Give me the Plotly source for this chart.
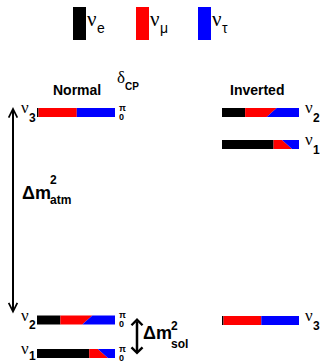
import plotly.graph_objects as go

# ---- data -------------------------------------------------------------
flavor_names = ["e", "μ", "τ"]
flavor_colors = ["#000000", "#ff0000", "#0000ff"]
mass_states = ["1", "2", "3"]
# flavour content of each mass state (fractions); νμ varies with δCP
frac_e = [0.67, 0.30, 0.02]
frac_mu_delta0 = [0.24, 0.28, 0.49]
frac_mu_deltapi = [0.11, 0.41, 0.49]
# schematic mass-squared levels (arbitrary units)
mass_sq_normal = [10.5, 44.0, 251.5]
mass_sq_inverted = [219.5, 251.5, 43.5]

# ---- layout helpers ---------------------------------------------------
W, H = 322, 364
FONT = "Liberation Sans, Arial"
SERIF = "Liberation Serif, DejaVu Serif"
bar_half = 4.5
normal_x = (37, 115)
inverted_x = (222, 299)


def P(yp):
    return H - yp


fig = go.Figure()
annotations = []


def add_poly(xs, ys, color):
    fig.add_trace(go.Scatter(x=xs + [xs[0]], y=ys + [ys[0]], mode="lines",
                             fill="toself", fillcolor=color,
                             line=dict(width=0, color=color),
                             hoverinfo="skip", showlegend=False))


def draw_bar(x0, x1, level, i):
    w = x1 - x0
    bot, top = level - bar_half, level + bar_half
    xe = x0 + frac_e[i] * w
    xm0 = xe + frac_mu_delta0[i] * w
    xmp = xe + frac_mu_deltapi[i] * w
    add_poly([x0, xe, xe, x0], [bot, bot, top, top], flavor_colors[0])
    add_poly([xe, xm0, xmp, xe], [bot, bot, top, top], flavor_colors[1])
    add_poly([xm0, x1, x1, xmp], [bot, bot, top, top], flavor_colors[2])


def txt(x, y, s, size, bold=False, xanchor="left", yanchor="middle", family=FONT):
    if bold:
        s = "<b>" + s + "</b>"
    annotations.append(dict(x=x, y=y, xref="x", yref="y", text=s, showarrow=False,
                            xanchor=xanchor, yanchor=yanchor, borderpad=0,
                            font=dict(family=family, size=size, color="black")))


def nu_label(x, y, sub):
    txt(x, y + 5, "ν", 17, family=SERIF)
    txt(x + 8, max(y - 5, 8.5), sub, 12, bold=True)


for i, s in enumerate(mass_states):
    lv = mass_sq_normal[i]
    draw_bar(normal_x[0], normal_x[1], lv, i)
    nu_label(normal_x[0] - 17, lv, s)
    txt(normal_x[1] + 3, lv + 5, "π", 9, bold=True)
    txt(normal_x[1] + 3, max(lv - 4, 6.5), "0", 9, bold=True)

    lv = mass_sq_inverted[i]
    draw_bar(inverted_x[0], inverted_x[1], lv, i)
    nu_label(inverted_x[1] + 5, lv, s)

# legend boxes
legend_x = [73, 136, 198]
for k in range(3):
    add_poly([legend_x[k], legend_x[k] + 13, legend_x[k] + 13, legend_x[k]],
             [P(40), P(40), P(7), P(7)], flavor_colors[k])
    txt(legend_x[k] + 13, P(19), "ν", 21, family=SERIF)
    txt(legend_x[k] + 23, P(28), flavor_names[k], 14)

# titles
txt(77, P(90), "Normal", 14, bold=True, xanchor="center")
txt(257, P(90), "Inverted", 14, bold=True, xanchor="center")
txt(116, P(77), "δ", 17, family=SERIF)
txt(124, P(86), "CP", 10, bold=True)

# Δm² labels
txt(21, P(193), "Δm", 18, bold=True)
txt(49, P(180), "2", 12, bold=True)
txt(49, P(200), "atm", 12, bold=True)
txt(142, P(333), "Δm", 18, bold=True)
txt(170, P(326), "2", 12, bold=True)
txt(170, P(344), "sol", 12, bold=True)

# arrows
annotations.append(dict(x=13, y=P(107), ax=13, ay=P(315), xref="x", yref="y",
                        axref="x", ayref="y", showarrow=True, arrowhead=5,
                        startarrowhead=5, arrowside="end+start", arrowsize=0.85,
                        startarrowsize=0.85, arrowwidth=2, arrowcolor="black", text=""))
annotations.append(dict(x=137, y=P(318), ax=137, ay=P(356), xref="x", yref="y",
                        axref="x", ayref="y", showarrow=True, arrowhead=4,
                        startarrowhead=4, arrowside="end+start", arrowsize=0.85,
                        startarrowsize=0.85, arrowwidth=2.5, arrowcolor="black", text=""))

fig.update_layout(
    width=W, height=H, margin=dict(l=0, r=0, t=0, b=0),
    paper_bgcolor="white", plot_bgcolor="white",
    xaxis=dict(range=[0, W], visible=False, fixedrange=True),
    yaxis=dict(range=[0, H], visible=False, fixedrange=True),
    annotations=annotations, showlegend=False,
)
fig.write_html("out.html")
